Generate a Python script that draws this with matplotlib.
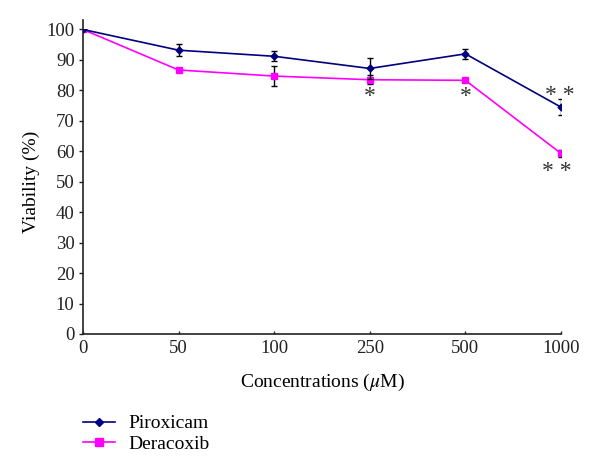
import numpy as np
import matplotlib
matplotlib.use('Agg')
import matplotlib.pyplot as plt
from matplotlib.lines import Line2D

plt.rcParams['font.family'] = ['Liberation Serif', 'DejaVu Serif']
plt.rcParams['mathtext.fontset'] = 'stix'

conc = ['0', '50', '100', '250', '500', '1000']
pirox = [100, 93.2, 91.2, 87.2, 92.0, 74.5]
pirox_err = [0, 2.0, 1.6, 3.5, 1.6, 2.7]
derac = [100, 86.7, 84.7, 83.5, 83.3, 59.3]
derac_err = [0, 0.6, 3.4, 1.4, 0.4, 1.2]
stars_pos = [3, 4, 4.99, 4.96]
stars_y = [78.0, 78.0, 78.3, 53.2]
stars_txt = ['*', '*', '**', '**']

x = np.arange(len(conc))

fig = plt.figure(figsize=(6, 4.74), dpi=100)
ax = fig.add_axes([0.1383, 0.2954, 0.7967, 0.6424])

ax.errorbar(x, pirox, yerr=pirox_err, color='#000080', ecolor='black', elinewidth=1,
            capsize=2.5, capthick=1, marker='D', markersize=3.5, lw=1.2, zorder=3)
ax.errorbar(x, derac, yerr=derac_err, color='#FF00FF', ecolor='black', elinewidth=1,
            capsize=2.5, capthick=1, marker='s', markersize=5, lw=1.2, zorder=2)

for xi, yi, t in zip(stars_pos, stars_y, stars_txt):
    ax.text(xi, yi, ' '.join(t), ha='center', va='center', fontsize=17, color='#333333')

ax.set_xlim(0, 5)
ax.set_ylim(0, 100)
ax.set_xticks(x)
ax.set_xticklabels(conc)
ax.set_yticks(np.arange(0, 101, 10))
ax.tick_params(axis='both', labelsize=13.5, width=1, length=3, colors='#222222')
ax.tick_params(axis='x', direction='in', length=2.5, pad=4)
ax.tick_params(axis='y', pad=3)
for s in ['top', 'right']:
    ax.spines[s].set_visible(False)
for s in ['left', 'bottom']:
    ax.spines[s].set_linewidth(1.2)
    ax.spines[s].set_color('#222222')
ax.spines['left'].set_bounds(0, 103)

ax.set_ylabel('Viability (%)', fontsize=14, labelpad=5)
ax.set_xlabel(r'Concentrations ($\mu$M)', fontsize=14, labelpad=11)

handles = [Line2D([], [], color='#000080', marker='D', markersize=4, lw=1.2),
           Line2D([], [], color='#FF00FF', marker='s', markersize=6, lw=1.2)]
fig.legend(handles, ['Piroxicam', 'Deracoxib'], loc='upper left',
           bbox_to_anchor=(0.138, 0.125), frameon=False, fontsize=14,
           handlelength=1.65, handletextpad=0.67, labelspacing=0.15, borderpad=0,
           borderaxespad=0)

fig.savefig('out.png', dpi=100)
